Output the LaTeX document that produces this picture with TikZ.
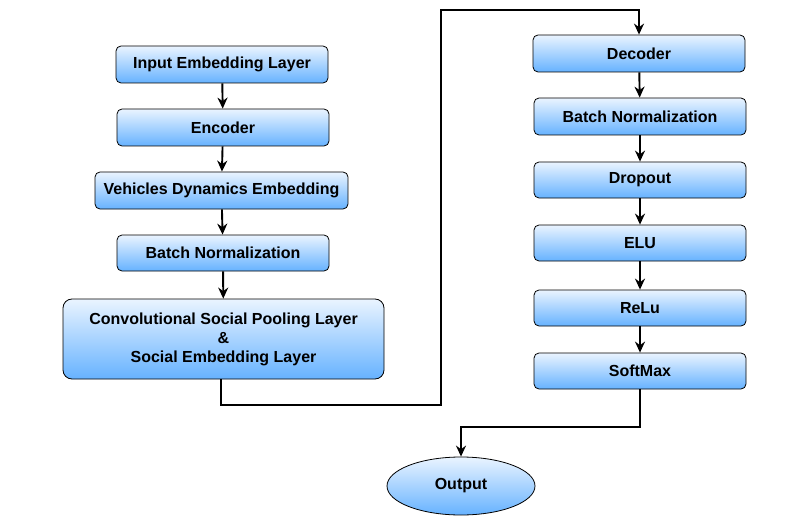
\documentclass[tikz,border=0pt]{standalone}
\usepackage{fontspec}
\setmainfont{Liberation Sans}
\usetikzlibrary{shapes.geometric,arrows.meta}
\definecolor{topc}{HTML}{EAF4FF}
\definecolor{botc}{HTML}{66B2FF}
\tikzset{
  blk/.style={draw=black, line width=0.8pt, rounded corners=5pt, top color=topc, bottom color=botc,
    font=\bfseries\fontsize{16}{19}\selectfont, align=center, inner sep=0pt},
  conn/.style={line width=1.9pt, -{Stealth[length=11pt,width=10pt]}},
}
\begin{document}
\begin{tikzpicture}[x=1pt,y=-1pt]
\useasboundingbox (0,0) rectangle (806,516);
\node[blk, minimum width=212pt, minimum height=37pt] (a1) at (222,64.5) {Input Embedding Layer};
\node[blk, minimum width=212pt, minimum height=37pt] (a2) at (223,127.5) {Encoder};
\node[blk, minimum width=253pt, minimum height=37pt] (a3) at (221.5,190.5) {Vehicles Dynamics Embedding};
\node[blk, minimum width=212pt, minimum height=36pt] (a4) at (223,253) {Batch Normalization};
\node[blk, minimum width=321pt, minimum height=80pt, rounded corners=9pt] (a5) at (223.5,339) {Convolutional Social Pooling Layer\\\&\\Social Embedding Layer};
\node[blk, minimum width=212pt, minimum height=37pt] (b1) at (639,53.5) {Decoder};
\node[blk, minimum width=212pt, minimum height=37pt] (b2) at (640,116.5) {Batch Normalization};
\node[blk, minimum width=212pt, minimum height=36pt] (b3) at (640,180) {Dropout};
\node[blk, minimum width=212pt, minimum height=36pt] (b4) at (640,243) {ELU};
\node[blk, minimum width=212pt, minimum height=36pt] (b5) at (640,308) {ReLu};
\node[blk, minimum width=212pt, minimum height=36pt] (b6) at (640,371) {SoftMax};
\node[blk, ellipse, minimum width=148pt, minimum height=58pt] (out) at (461,486) {Output};
\draw[conn] (a1) -- (a2);
\draw[conn] (a2) -- (a3);
\draw[conn] (a3) -- (a4);
\draw[conn] (a4) -- (a5);
\coordinate (c1) at (221,405);
\coordinate (c2) at (441,405);
\coordinate (c3) at (441,10);
\coordinate (c4) at (639,10);
\draw[conn] (a5.south -| c1) -- (c1) -- (c2) -- (c3) -- (c4) -- (b1.north);
\draw[conn] (b1) -- (b2);
\draw[conn] (b2) -- (b3);
\draw[conn] (b3) -- (b4);
\draw[conn] (b4) -- (b5);
\draw[conn] (b5) -- (b6);
\coordinate (d1) at (640,427);
\coordinate (d2) at (461,427);
\draw[conn] (b6.south) -- (d1) -- (d2) -- (out.north);
\end{tikzpicture}
\end{document}
